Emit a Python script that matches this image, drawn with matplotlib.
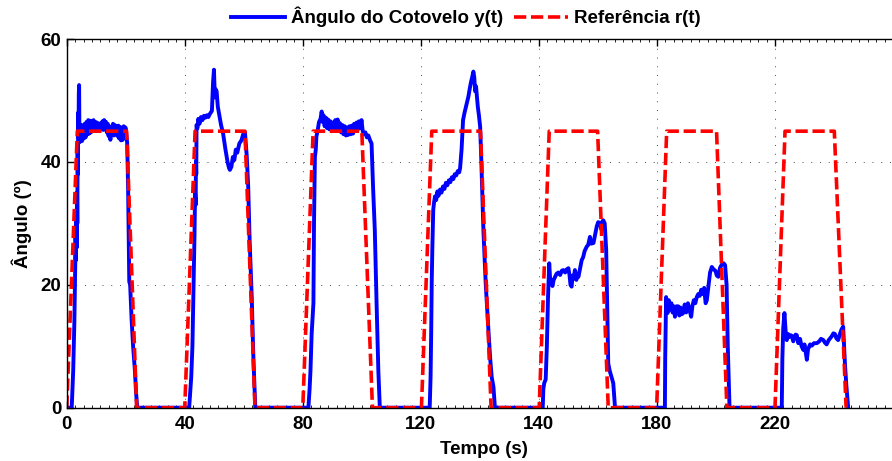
import numpy as np
import matplotlib.pyplot as plt
from matplotlib.ticker import MultipleLocator

plt.rcParams['font.family'] = ['Liberation Sans', 'DejaVu Sans']
plt.rcParams['font.weight'] = 'bold'

# Reference r(t): trapezoid corners, (time, angle)
ref_pts = [(0, 0), (3.6, 45), (20.3, 45), (23.7, 0),
           (40, 0), (43.5, 45), (60.4, 45), (63.8, 0),
           (80, 0), (83.5, 45), (100, 45), (103.6, 0),
           (120.2, 0), (123.7, 45), (140.2, 45), (143.8, 0),
           (160.1, 0), (163.5, 45), (179.9, 45), (183.5, 0),
           (199.9, 0), (203.3, 45), (220.2, 45), (223.7, 0),
           (240, 0), (243.4, 45), (260.1, 45), (264.1, 0)]

# Elbow angle y(t)
cyc1 = [(0, 0), (1.7, 0), (2.2, 6), (2.6, 14), (2.9, 23.5), (3.0, 28), (3.1, 24), (3.25, 32),
        (3.35, 26), (3.5, 35), (3.6, 30), (3.7, 42), (3.8, 38), (3.9, 48), (4.0, 44), (4.1, 51),
        (4.2, 52.5), (4.3, 45), (4.4, 43.2), (4.6, 45.5), (4.8, 43.5), (5.0, 46), (5.2, 43.4),
        (5.5, 45.8), (5.8, 43.8), (6.1, 46.2), (6.4, 44), (6.7, 46.5), (7.0, 44.5), (7.3, 46.8),
        (7.6, 44.6), (7.9, 46.7), (8.2, 44.8), (8.5, 46.6), (8.8, 45), (9.1, 46.8), (9.4, 45.2),
        (9.7, 46.5), (10.0, 45), (10.3, 46.4), (10.6, 45.3), (10.9, 46.2), (11.2, 45.1), (11.5, 46.3),
        (11.8, 45.4), (12.1, 46.6), (12.4, 45.2), (12.7, 46.8), (13.0, 45.5), (13.3, 46.5),
        (13.6, 44.8), (13.9, 46.2), (14.2, 44.2), (14.5, 45.8), (14.8, 43.6), (15.1, 45.6),
        (15.4, 44.5), (15.7, 46.2), (16.0, 44.3), (16.3, 46), (16.6, 44.6), (16.9, 45.8),
        (17.2, 44.2), (17.5, 45.9), (17.8, 43.8), (18.1, 45.7), (18.4, 43.5), (18.7, 45.5),
        (19.0, 43.6), (19.3, 45.8), (19.6, 44), (19.9, 45.6), (20.2, 44.5), (20.5, 43),
        (20.8, 36), (21.0, 28), (21.2, 20.5), (21.5, 20), (22.0, 14.3), (22.5, 10), (23.1, 6.1),
        (23.5, 2.5), (23.9, 0)]
cyc2 = [(41.5, 0), (42.2, 5), (42.6, 10), (43.0, 20), (43.3, 28), (43.5, 35), (43.7, 33),
        (43.8, 40), (43.9, 38), (44.0, 46), (44.3, 45.5), (44.6, 47), (45.0, 46.2), (45.5, 47.3),
        (46.0, 46.8), (46.5, 47.5), (47.0, 47.2), (47.5, 47.6), (48.0, 47.3), (48.5, 47.8),
        (49.2, 48.3), (49.6, 53), (49.9, 55), (50.2, 50.5), (50.5, 51.8), (50.8, 51.5),
        (51.2, 49), (52.3, 46), (53.0, 44.6), (53.8, 42), (54.5, 40), (55.0, 39), (55.3, 38.7),
        (55.8, 39.2), (56.3, 40.8), (56.8, 40.3), (57.3, 42), (57.8, 41.5), (58.5, 43),
        (59.2, 43.5), (59.8, 44.5), (60.4, 44.8), (61.0, 41), (61.5, 36), (62.0, 27),
        (62.7, 18), (63.2, 9), (63.9, 0)]
cyc3 = [(81.9, 0), (82.3, 3), (82.6, 6), (83.0, 12), (83.6, 17), (83.8, 30), (84.1, 40.8),
        (84.4, 42), (84.6, 44.1), (85.0, 45), (85.5, 46.5), (86.0, 47), (86.4, 48.2), (86.7, 46.5),
        (87.0, 47.6), (87.4, 45.8), (87.8, 47.2), (88.2, 45.5), (88.6, 46.9), (89.0, 45.3),
        (89.4, 46.6), (89.8, 45), (90.2, 46.4), (90.6, 45.6), (91.0, 46.8), (91.4, 45.2),
        (91.8, 46.9), (92.2, 45.4), (92.6, 46.3), (93.0, 44.8), (93.4, 46), (93.8, 44.5),
        (94.2, 45.8), (94.6, 44.3), (95.0, 45.6), (95.4, 44.4), (95.8, 45.8), (96.2, 44.5),
        (96.6, 45.9), (97.0, 44.6), (97.4, 46.2), (97.8, 45), (98.2, 46.4), (98.6, 45.2),
        (99.0, 46.6), (99.4, 45.5), (99.9, 46.8), (100.3, 45), (100.7, 44.5), (101.2, 44.8),
        (101.7, 44), (102.2, 44.3), (102.8, 43.5), (103.3, 43), (103.8, 36), (104.4, 28.9),
        (105.0, 17), (105.6, 6), (106.1, 0)]
cyc4 = [(123.0, 0), (123.3, 5), (123.5, 12), (123.7, 20.8), (123.9, 26), (124.2, 32.2),
        (124.5, 33.5), (124.8, 34.4), (125.2, 33.8), (125.6, 35.2), (126.0, 34.5), (126.5, 35.5),
        (127.0, 35), (127.5, 36), (128.0, 35.6), (128.5, 36.6), (129.0, 36.2), (129.5, 37),
        (130.0, 36.7), (130.5, 37.5), (131.0, 37.2), (131.5, 38), (132.0, 37.8), (132.5, 38.5),
        (133.0, 38.3), (133.3, 39), (133.8, 42), (134.3, 46.8), (134.8, 48), (135.3, 49),
        (136.1, 50.6), (136.6, 52), (137.0, 53), (137.4, 53.8), (137.8, 54.7), (138.1, 53.8),
        (138.4, 51.5), (138.7, 52.3), (138.9, 51.2), (139.3, 49), (139.7, 47.5), (140.1, 45.7),
        (140.5, 40), (141.2, 28.9), (142.0, 20), (142.9, 12.6), (143.5, 8), (144.0, 5),
        (144.6, 3.4), (145.1, 0)]
cyc5 = [(161.3, 0), (161.5, 3), (161.8, 4), (162.3, 4.6), (162.7, 10), (163.1, 18), (163.5, 23.5),
        (163.8, 21), (164.2, 20.5), (164.6, 19.8), (165.0, 20.8), (165.5, 21.3), (166.0, 21.8),
        (166.6, 22), (167.2, 21.6), (167.8, 22.3), (168.3, 22.4), (168.9, 22), (169.4, 22.5),
        (170.0, 22.7), (170.4, 21.5), (170.7, 20), (171.1, 19.7), (171.4, 21.5), (171.8, 21),
        (172.2, 22.4), (172.7, 20.8), (173.0, 21.8), (173.4, 21.3), (173.9, 22.5), (174.5, 24),
        (175.0, 24.5), (175.5, 25.5), (176.2, 26.2), (176.7, 26.5), (177.3, 27.8), (177.7, 26.7),
        (178.5, 26.8), (179.0, 28), (179.6, 29.5), (180.1, 30.2), (180.7, 30), (181.2, 29),
        (181.5, 30.3), (181.8, 30.5), (182.3, 30), (182.8, 25.7), (183.2, 15), (183.5, 7.2),
        (184.0, 6), (184.6, 5), (185.2, 4), (185.8, 0)]
cyc6 = [(202.7, 0), (202.8, 8), (203.1, 18), (203.4, 16), (203.6, 15.4), (204.0, 17.5),
        (204.4, 16), (204.9, 17), (205.3, 15.5), (205.7, 16.5), (206.1, 14.8), (206.6, 16.5),
        (207.2, 16.5), (207.6, 15), (208.0, 16.3), (208.4, 15.2), (208.9, 15.4), (209.4, 16.8),
        (209.9, 15.5), (210.5, 17), (211.0, 16), (211.6, 14.8), (212.0, 16.5), (212.5, 17.5),
        (213.0, 17), (213.5, 18), (214.0, 18.5), (214.5, 18.2), (215.0, 19.2), (215.5, 18.5),
        (216.0, 19.5), (216.5, 17), (216.9, 17.5), (217.5, 20), (218.0, 22), (218.6, 22.9),
        (219.2, 22.5), (219.8, 22.3), (220.3, 21.5), (220.8, 21.3), (221.4, 22.8), (222.0, 23.3),
        (222.6, 23.5), (223.1, 23.2), (223.6, 20), (224.0, 10), (224.6, 0)]
cyc7 = [(242.3, 0), (242.5, 8), (242.8, 13), (243.2, 15.4), (243.6, 12.5), (244.0, 11),
        (244.4, 12), (244.8, 11.5), (245.3, 11.8), (245.7, 11.7), (246.2, 10.8), (246.6, 11.5),
        (247.0, 11.9), (247.4, 11.8), (247.9, 10.5), (248.5, 11.2), (249.0, 10), (249.6, 9.4),
        (250.0, 10.3), (250.4, 9), (250.8, 7.8), (251.2, 9.5), (251.9, 10.3), (252.5, 10.1),
        (253.2, 10.5), (254.2, 10.5), (255.0, 10.8), (255.6, 11.2), (256.4, 11), (256.9, 10.6),
        (257.5, 10.3), (258.2, 11), (259.2, 11.6), (259.8, 12.1), (260.3, 12), (260.8, 11.3),
        (261.4, 11), (262.0, 12), (262.6, 12.8), (263.1, 13.2), (263.4, 10), (263.7, 7.2),
        (264.2, 3.5), (264.8, 0)]

x_ticks = [0, 40, 80, 120, 160, 200, 240]
x_labels = ['0', '40', '80', '120', '140', '180', '220']
y_ticks = [0, 20, 40, 60]

blue = np.array(cyc1 + cyc2 + cyc3 + cyc4 + cyc5 + cyc6 + cyc7)
ref = np.array(ref_pts)

fig = plt.figure(figsize=(8.92, 4.61), dpi=100)
# axes run a little past the right edge of the picture, as in the original crop
ax = fig.add_axes([66.7 / 892, 1 - 407.7 / 461, 834.3 / 892, 368.7 / 461])

ax.plot(blue[:, 0], blue[:, 1], color='#0000ff', lw=2.8, label='Ângulo do Cotovelo y(t)',
        solid_joinstyle='round')
ax.plot(ref[:, 0], ref[:, 1], color='#ff0000', lw=2.6, dashes=(3.4, 1.3),
        label='Referência r(t)')

ax.set_xlim(0, 282.7)
ax.set_ylim(0, 60)
ax.set_xticks(x_ticks)
ax.set_xticklabels(x_labels)
ax.set_yticks(y_ticks)
ax.xaxis.set_minor_locator(MultipleLocator(40 / 14))
ax.grid(True, which='major', color='0.3', lw=0.7, linestyle=(0, (1, 8)))
ax.tick_params(which='major', direction='in', length=5, width=1, top=True, right=True,
               labelsize=13.5, pad=4)
ax.tick_params(axis='x', which='major', pad=6)
ax.tick_params(which='minor', direction='in', length=2.5, width=0.6, top=True, bottom=True)
for sp in ax.spines.values():
    sp.set_linewidth(1.0)

ax.set_xlabel('Tempo (s)', fontsize=13.5, fontweight='bold', labelpad=6)
ax.set_ylabel('Ângulo (º)', fontsize=13.5, fontweight='bold', labelpad=6)

fig.legend(loc='center', bbox_to_anchor=(466 / 892, 1 - 17 / 461), ncol=2, frameon=False,
           fontsize=13.5, handlelength=2.9, handletextpad=0.32, columnspacing=0.55)

fig.savefig('out.png', dpi=100)
